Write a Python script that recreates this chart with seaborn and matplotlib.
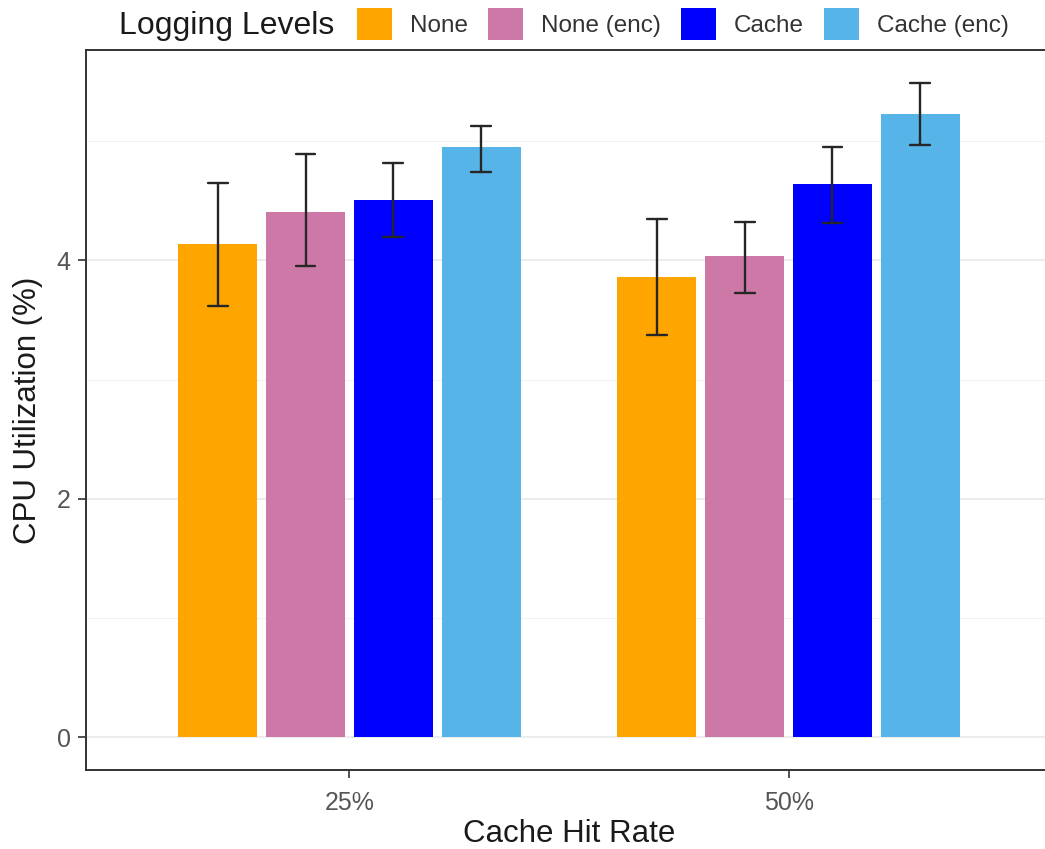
import numpy as np
import pandas as pd
import seaborn as sns
import matplotlib.pyplot as plt
from matplotlib.ticker import MultipleLocator

# ---- data ----
rates = ["25%", "50%"]
levels = ["None", "None (enc)", "Cache", "Cache (enc)"]
mean_25 = [4.14, 4.41, 4.51, 4.95]
low_25 = [3.62, 3.95, 4.20, 4.74]
high_25 = [4.65, 4.89, 4.82, 5.13]
mean_50 = [3.86, 4.04, 4.64, 5.23]
low_50 = [3.37, 3.73, 4.31, 4.97]
high_50 = [4.35, 4.32, 4.95, 5.49]
colors = ["#FFA500", "#CC79A7", "#0000FF", "#56B4E9"]

# long table: low / mean / high per bar -> median = mean, 100% interval = [low, high]
rows = []
for rate, means, lows, highs in [(rates[0], mean_25, low_25, high_25),
                                 (rates[1], mean_50, low_50, high_50)]:
    for lvl, m, lo, hi in zip(levels, means, lows, highs):
        for v in (lo, m, hi):
            rows.append({"rate": rate, "level": lvl, "cpu": v})
df = pd.DataFrame(rows)

sns.set_style("white")
plt.rcParams["font.family"] = ["Liberation Sans", "DejaVu Sans"]

W, H = 1045, 849
fig = plt.figure(figsize=(W / 100, H / 100), dpi=100)
ax = fig.add_axes([86 / W, (H - 770) / H, 966 / W, 720 / H])

# grid (drawn below bars)
ax.set_axisbelow(True)
ax.yaxis.set_major_locator(MultipleLocator(2))
ax.yaxis.set_minor_locator(MultipleLocator(1))
ax.grid(True, which="major", color="#EBEBEB", linewidth=1.3)
ax.grid(True, which="minor", axis="y", color="#F2F2F2", linewidth=0.8)

sns.barplot(data=df, x="rate", y="cpu", hue="level", order=rates,
            hue_order=levels, palette=colors, estimator="median",
            errorbar=("pi", 100), width=0.8, gap=0.1, capsize=0.18,
            linewidth=0, saturation=1,
            err_kws={"color": "#262626", "linewidth": 1.7}, ax=ax)

handles, labels = ax.get_legend_handles_labels()
ax.get_legend().remove()

ax.set_ylim(-0.275, 5.765)
ax.set_xlim(-0.6, 1.6)

for s in ax.spines.values():
    s.set_visible(True)
    s.set_color("#333333")
    s.set_linewidth(1.4)

ax.tick_params(axis="both", which="major", length=6, width=1.2, color="#333333",
               labelsize=18, labelcolor="#555555", pad=5, left=True, bottom=True)
ax.tick_params(axis="x", which="major", pad=9)
ax.tick_params(axis="y", which="minor", length=0)

ax.set_xlabel("Cache Hit Rate", fontsize=22.5, color="#1a1a1a", labelpad=3)
ax.set_ylabel("CPU Utilization (%)", fontsize=22.5, color="#1a1a1a", labelpad=10)

# legend on top
fig.text(119 / W, 1 - 26 / H, "Logging Levels", fontsize=23, color="#1a1a1a",
         va="center", ha="left")
fs = 17.5
fpx = fs * 100 / 72
fig.legend(handles, labels, loc="center left", bbox_to_anchor=(357 / W, 1 - 24 / H),
           ncol=4, frameon=False, fontsize=fs, labelcolor="#333333",
           handlelength=35 / fpx, handleheight=40 / fpx, handletextpad=18 / fpx,
           columnspacing=20 / fpx, borderpad=0, borderaxespad=0)

fig.savefig("out.png", dpi=100)
